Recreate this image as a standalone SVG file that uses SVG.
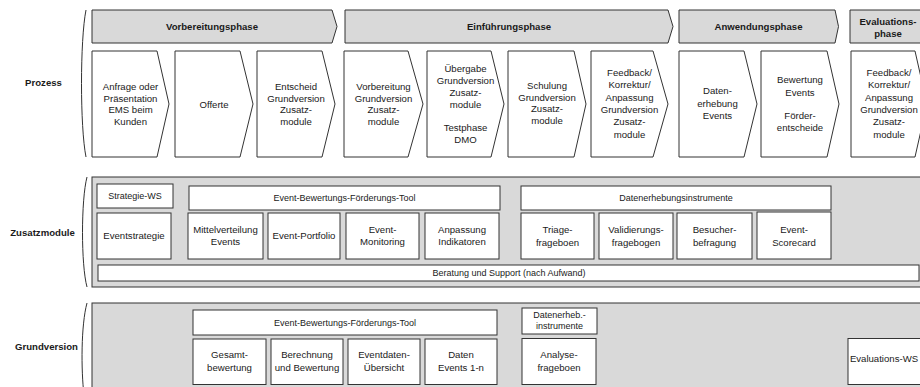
<svg xmlns="http://www.w3.org/2000/svg" width="920" height="387" viewBox="0 0 920 387">
<style>
text{font-family:"Liberation Sans",Arial,sans-serif;fill:#1a1a1a;text-anchor:middle}
.t{font-size:9.6px}
.s{font-size:9px}
.b{font-size:9.6px;font-weight:bold}
.hdr{fill:#d9d9d9;stroke:#333;stroke-width:1}
.pan{fill:#d9d9d9;stroke:#333;stroke-width:1}
.box{fill:#fff;stroke:#333;stroke-width:1}
.brace{fill:none;stroke:#333;stroke-width:1}
</style>
<rect width="920" height="387" fill="#fff"/>

<g id="braces">
<path class="brace" d="M86,10 C80,40 80,127 86,157"/>
<path class="brace" d="M87,177 C81,200 81,265 87,287"/>
<path class="brace" d="M87,303 C81,325 81,370 84,395"/>
</g>

<g id="labels">
<text class="b" x="43.5" y="86.4">Prozess</text>
<text class="b" x="42.5" y="236.4">Zusatzmodule</text>
<text class="b" x="46.5" y="350.4">Grundversion</text>
</g>

<g id="phases">
<g id="phase-vorbereitung"><path class="hdr" d="M92,10 H332 L337,26.5 L332,43 H92 Z"/><text class="b" x="212" y="30">Vorbereitungsphase</text></g>
<g id="phase-einfuehrung"><path class="hdr" d="M345,10 H668 L673,26.5 L668,43 H345 Z"/><text class="b" x="509" y="30">Einführungsphase</text></g>
<g id="phase-anwendung"><path class="hdr" d="M679,10 H835 L838.5,26.5 L835,43 H679 Z"/><text class="b" x="758.5" y="30">Anwendungsphase</text></g>
<g id="phase-evaluation"><path class="hdr" d="M850,10 H930 V43 H850 Z"/><text class="b" x="888" y="25.1">Evaluations-</text><text class="b" x="888" y="36.7">phase</text></g>
</g>

<g id="process">
<g id="p1"><path class="box" d="M92,51 H157 L169,104 L157,157 H92 Z"/>
<text class="t" x="130.5" y="89.9">Anfrage oder</text><text class="t" x="130.5" y="101.6">Präsentation</text><text class="t" x="130.5" y="113.3">EMS beim</text><text class="t" x="130.5" y="125">Kunden</text></g>
<g id="p2"><path class="box" d="M175,51 H240 L253,104 L240,157 H175 Z"/>
<text class="t" x="214" y="107.5">Offerte</text></g>
<g id="p3"><path class="box" d="M257,51 H322 L335,104 L322,157 H257 Z"/>
<text class="t" x="296" y="89.9">Entscheid</text><text class="t" x="296" y="101.6">Grundversion</text><text class="t" x="296" y="113.3">Zusatz-</text><text class="t" x="296" y="125">module</text></g>
<g id="p4"><path class="box" d="M344,51 H408 L423,104 L408,157 H344 Z"/>
<text class="t" x="383.5" y="89.9">Vorbereitung</text><text class="t" x="383.5" y="101.6">Grundversion</text><text class="t" x="383.5" y="113.3">Zusatz-</text><text class="t" x="383.5" y="125">module</text></g>
<g id="p5"><path class="box" d="M427,51 H491 L504,104 L491,157 H427 Z"/>
<text class="t" x="465.5" y="72.4">Übergabe</text><text class="t" x="465.5" y="84.1">Grundversion</text><text class="t" x="465.5" y="95.8">Zusatz-</text><text class="t" x="465.5" y="107.5">module</text><text class="t" x="465.5" y="130.9">Testphase</text><text class="t" x="465.5" y="142.6">DMO</text></g>
<g id="p6"><path class="box" d="M508,51 H574 L586,104 L574,157 H508 Z"/>
<text class="t" x="547" y="89">Schulung</text><text class="t" x="547" y="100.7">Grundversion</text><text class="t" x="547" y="112.4">Zusatz-</text><text class="t" x="547" y="124.1">module</text></g>
<g id="p7"><path class="box" d="M591,51 H653 L668,104 L653,157 H591 Z"/>
<text class="t" x="629.5" y="75.7">Feedback/</text><text class="t" x="629.5" y="88.1">Korrektur/</text><text class="t" x="629.5" y="100.5">Anpassung</text><text class="t" x="629.5" y="112.9">Grundversion</text><text class="t" x="629.5" y="125.3">Zusatz-</text><text class="t" x="629.5" y="137.7">module</text></g>
<g id="p8"><path class="box" d="M679,51 H744 L757,104 L744,157 H679 Z"/>
<text class="t" x="717.5" y="94.1">Daten-</text><text class="t" x="717.5" y="106.7">erhebung</text><text class="t" x="717.5" y="119.3">Events</text></g>
<g id="p9"><path class="box" d="M761,51 H827 L839,104 L827,157 H761 Z"/>
<text class="t" x="800" y="83.4">Bewertung</text><text class="t" x="800" y="95.7">Events</text><text class="t" x="800" y="119.4">Förder-</text><text class="t" x="800" y="131.4">entscheide</text></g>
<g id="p10"><path class="box" d="M851,51 H915 L927,104 L915,157 H851 Z"/>
<text class="t" x="889" y="76.1">Feedback/</text><text class="t" x="889" y="88.4">Korrektur/</text><text class="t" x="889" y="100.8">Anpassung</text><text class="t" x="889" y="113.1">Grundversion</text><text class="t" x="889" y="125.4">Zusatz-</text><text class="t" x="889" y="137.7">module</text></g>
</g>

<g id="zusatzmodule">
<rect class="pan" x="92" y="177" width="840" height="110"/>
<g id="z-strategie-ws"><rect class="box" x="97" y="184" width="76" height="24"/><text class="s" x="135" y="199.3">Strategie-WS</text></g>
<g id="z-eventstrategie"><rect class="box" x="97" y="213" width="74" height="46"/><text class="t" x="134" y="239.4">Eventstrategie</text></g>
<g id="z-ebf-tool"><rect class="box" x="189" y="186" width="311" height="24"/><text class="s" x="344.5" y="201.2">Event-Bewertungs-Förderungs-Tool</text></g>
<g id="z-mittelverteilung"><rect class="box" x="188" y="213" width="75" height="46"/><text class="t" x="225.5" y="232.8">Mittelverteilung</text><text class="t" x="225.5" y="245.2">Events</text></g>
<g id="z-portfolio"><rect class="box" x="268" y="213" width="72" height="46"/><text class="t" x="304" y="239.4">Event-Portfolio</text></g>
<g id="z-monitoring"><rect class="box" x="346" y="213" width="73" height="46"/><text class="t" x="382.5" y="232.8">Event-</text><text class="t" x="382.5" y="245.2">Monitoring</text></g>
<g id="z-anpassung"><rect class="box" x="425" y="213" width="74" height="46"/><text class="t" x="462" y="232.8">Anpassung</text><text class="t" x="462" y="245.2">Indikatoren</text></g>
<g id="z-datenerhebung"><rect class="box" x="521" y="186" width="310" height="24"/><text class="s" x="676" y="201.2">Datenerhebungsinstrumente</text></g>
<g id="z-triage"><rect class="box" x="521" y="213" width="73" height="46"/><text class="t" x="557.5" y="233.3">Triage-</text><text class="t" x="557.5" y="245.6">frageboen</text></g>
<g id="z-validierung"><rect class="box" x="599" y="213" width="74" height="46"/><text class="t" x="636" y="233.3">Validierungs-</text><text class="t" x="636" y="245.6">fragebogen</text></g>
<g id="z-besucher"><rect class="box" x="677" y="213" width="75" height="46"/><text class="t" x="714.5" y="233.3">Besucher-</text><text class="t" x="714.5" y="245.6">befragung</text></g>
<g id="z-scorecard"><rect class="box" x="757" y="212" width="74" height="47"/><text class="t" x="794" y="233.3">Event-</text><text class="t" x="794" y="245.6">Scorecard</text></g>
<g id="z-beratung"><rect class="box" x="98" y="265" width="821" height="16"/><text class="s" x="509" y="276.2">Beratung und Support (nach Aufwand)</text></g>
</g>

<g id="grundversion">
<rect class="pan" x="92" y="303" width="840" height="100"/>
<g id="g-ebf-tool"><rect class="box" x="193" y="310" width="304" height="25"/><text class="s" x="345" y="325.7">Event-Bewertungs-Förderungs-Tool</text></g>
<g id="g-datenerheb"><rect class="box" x="522" y="308" width="75" height="26"/><text class="s" x="559.5" y="318.2">Datenerheb.-</text><text class="s" x="559.5" y="329.2">instrumente</text></g>
<g id="g-gesamt"><rect class="box" x="193" y="339" width="73" height="45.5"/><text class="t" x="229.5" y="358.4">Gesamt-</text><text class="t" x="229.5" y="370.7">bewertung</text></g>
<g id="g-berechnung"><rect class="box" x="271" y="339" width="72" height="45.5"/><text class="t" x="307" y="358.4">Berechnung</text><text class="t" x="307" y="370.7">und Bewertung</text></g>
<g id="g-eventdaten"><rect class="box" x="348" y="339" width="72" height="45.5"/><text class="t" x="384" y="358.4">Eventdaten-</text><text class="t" x="384" y="370.7">Übersicht</text></g>
<g id="g-daten"><rect class="box" x="425" y="339" width="72" height="45.5"/><text class="t" x="461" y="358.4">Daten</text><text class="t" x="461" y="370.7">Events 1-n</text></g>
<g id="g-analyse"><rect class="box" x="522" y="338.5" width="74" height="46"/><text class="t" x="559" y="358.4">Analyse-</text><text class="t" x="559" y="370.7">frageboen</text></g>
<g id="g-evaluations-ws"><rect class="box" x="848" y="338.5" width="82" height="46"/><text class="t" x="884" y="361.7">Evaluations-WS</text></g>
</g>
</svg>
